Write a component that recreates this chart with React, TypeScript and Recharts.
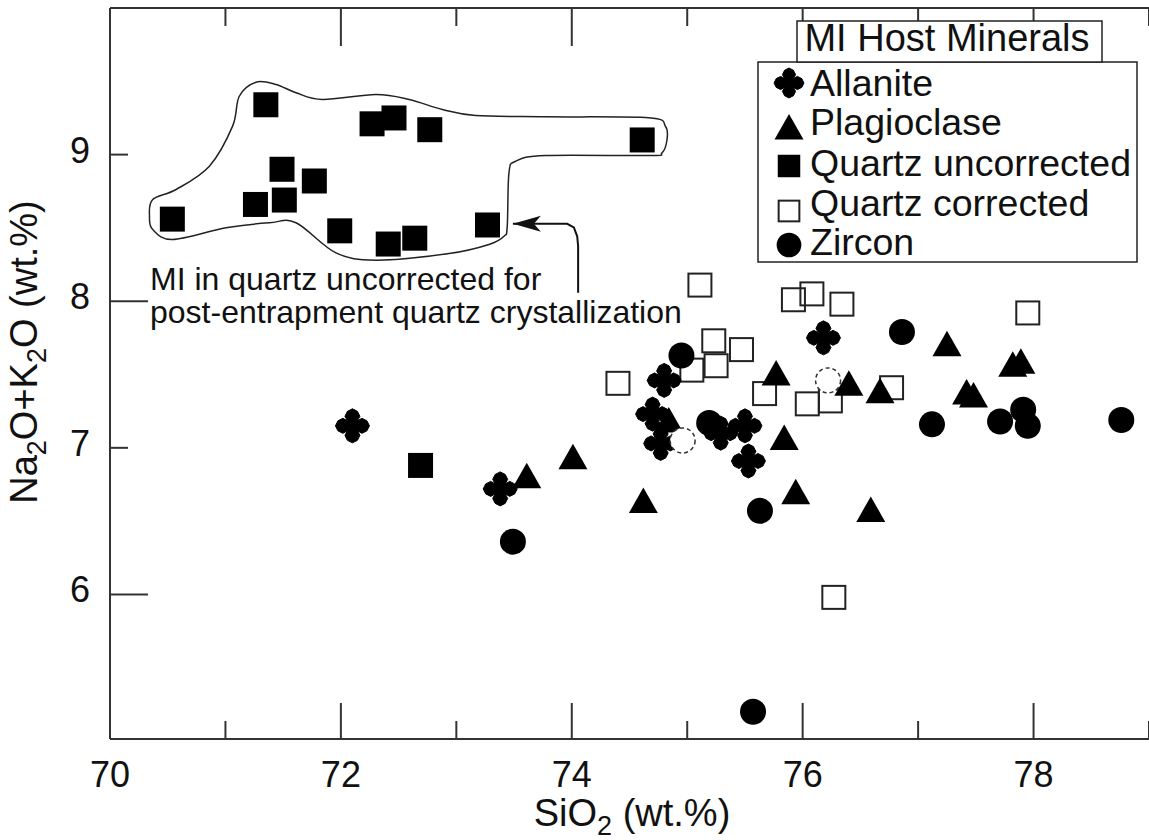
import React from 'react';
import { ScatterChart, Scatter, XAxis, YAxis, Legend } from 'recharts';

const FONT = '"Liberation Sans", Arial, Helvetica, sans-serif';
const INK = '#111';
const AXIS = '#333';

const X_TICKS = [70, 71, 72, 73, 74, 75, 76, 77, 78, 79];
const X_LABELS = [70, 72, 74, 76, 78];
const Y_TICKS = [6, 7, 8, 9, 10];
const Y_LABELS = [6, 7, 8, 9];
const X_DOMAIN = [70, 79];
const Y_DOMAIN = [5.014, 10];

const LEGEND_TITLE = 'MI Host Minerals';
const LEGEND_NAMES = ['Allanite', 'Plagioclase', 'Quartz uncorrected', 'Quartz corrected', 'Zircon'];
const NOTE_LINES = ['MI in quartz uncorrected for', 'post-entrapment quartz crystallization'];

const allanite = [
  { x: 72.10, y: 7.15 }, { x: 73.38, y: 6.72 }, { x: 74.70, y: 7.23 }, { x: 74.77, y: 7.03 },
  { x: 74.80, y: 7.46 }, { x: 75.29, y: 7.10 }, { x: 75.50, y: 7.15 }, { x: 75.53, y: 6.91 },
  { x: 76.18, y: 7.75 },
];

const plagioclase = [
  { x: 73.61, y: 6.81 }, { x: 74.01, y: 6.94 }, { x: 74.62, y: 6.64 }, { x: 74.84, y: 7.19 },
  { x: 75.77, y: 7.51 }, { x: 75.84, y: 7.07 }, { x: 75.94, y: 6.70 }, { x: 76.40, y: 7.44 },
  { x: 76.59, y: 6.58 }, { x: 76.67, y: 7.39 }, { x: 77.25, y: 7.71 }, { x: 77.42, y: 7.38 },
  { x: 77.48, y: 7.36 }, { x: 77.82, y: 7.57 }, { x: 77.89, y: 7.59 },
];

const quartzUncorrected = [
  { x: 70.54, y: 8.56 }, { x: 71.26, y: 8.66 }, { x: 71.35, y: 9.34 }, { x: 71.49, y: 8.90 },
  { x: 71.51, y: 8.69 }, { x: 71.77, y: 8.82 }, { x: 71.99, y: 8.48 }, { x: 72.27, y: 9.21 },
  { x: 72.41, y: 8.39 }, { x: 72.46, y: 9.25 }, { x: 72.64, y: 8.43 }, { x: 72.69, y: 6.88 },
  { x: 72.77, y: 9.17 }, { x: 73.27, y: 8.52 }, { x: 74.61, y: 9.10 },
];

const quartzCorrected = [
  { x: 74.40, y: 7.44 }, { x: 75.04, y: 7.53 }, { x: 75.11, y: 8.11 }, { x: 75.23, y: 7.73 },
  { x: 75.25, y: 7.56 }, { x: 75.47, y: 7.67 }, { x: 75.67, y: 7.37 }, { x: 75.92, y: 8.01 },
  { x: 76.04, y: 7.30 }, { x: 76.08, y: 8.05 }, { x: 76.24, y: 7.32 }, { x: 76.27, y: 5.98 },
  { x: 76.34, y: 7.98 }, { x: 76.77, y: 7.41 }, { x: 77.95, y: 7.92 },
];

const zircon = [
  { x: 73.49, y: 6.36 }, { x: 74.95, y: 7.63 }, { x: 75.19, y: 7.17 }, { x: 75.57, y: 5.20 },
  { x: 75.63, y: 6.57 }, { x: 76.86, y: 7.79 }, { x: 77.12, y: 7.16 }, { x: 77.71, y: 7.18 },
  { x: 77.91, y: 7.26 }, { x: 77.95, y: 7.15 }, { x: 78.76, y: 7.19 },
];

const zirconDashed = [{ x: 74.96, y: 7.05 }, { x: 76.22, y: 7.46 }];

const enclosure = [
  { x: 70.342, y: 8.580 }, { x: 70.370, y: 8.694 }, { x: 70.573, y: 8.762 }, { x: 70.861, y: 8.921 },
  { x: 71.062, y: 9.194 }, { x: 71.120, y: 9.398 }, { x: 71.265, y: 9.494 }, { x: 71.438, y: 9.478 },
  { x: 71.611, y: 9.422 }, { x: 71.841, y: 9.376 }, { x: 72.303, y: 9.410 }, { x: 72.591, y: 9.376 },
  { x: 72.879, y: 9.308 }, { x: 73.168, y: 9.267 }, { x: 73.773, y: 9.258 }, { x: 74.667, y: 9.251 },
  { x: 74.811, y: 9.194 }, { x: 74.825, y: 9.103 }, { x: 74.782, y: 9.012 }, { x: 74.667, y: 8.994 },
  { x: 73.773, y: 8.994 }, { x: 73.514, y: 8.955 }, { x: 73.456, y: 8.876 }, { x: 73.441, y: 8.512 },
  { x: 73.413, y: 8.443 }, { x: 73.283, y: 8.387 }, { x: 72.937, y: 8.325 }, { x: 72.303, y: 8.280 },
  { x: 71.957, y: 8.330 }, { x: 71.611, y: 8.535 }, { x: 71.380, y: 8.535 }, { x: 71.005, y: 8.501 },
  { x: 70.543, y: 8.421 }, { x: 70.370, y: 8.489 },
];

const arrowPath = [
  { x: 74.055, y: 8.057 }, { x: 74.055, y: 8.375 }, { x: 74.047, y: 8.443 }, { x: 74.018, y: 8.503 },
  { x: 73.960, y: 8.528 }, { x: 73.490, y: 8.528, head: true },
];

// closed Catmull-Rom curve factory for the hand-drawn enclosure
const closedSmooth = (context: any) => {
  let pts: number[][] = [];
  return {
    areaStart() {},
    areaEnd() {},
    lineStart() { pts = []; },
    point(x: number, y: number) { pts.push([x, y]); },
    lineEnd() {
      const n = pts.length;
      if (!n) return;
      context.moveTo(pts[0][0], pts[0][1]);
      for (let i = 0; i < n; i++) {
        const p0 = pts[(i - 1 + n) % n];
        const p1 = pts[i];
        const p2 = pts[(i + 1) % n];
        const p3 = pts[(i + 2) % n];
        context.bezierCurveTo(
          p1[0] + (p2[0] - p0[0]) / 6, p1[1] + (p2[1] - p0[1]) / 6,
          p2[0] - (p3[0] - p1[0]) / 6, p2[1] - (p3[1] - p1[1]) / 6,
          p2[0], p2[1],
        );
      }
      context.closePath();
    },
  };
};

// plus-like glyph with bulging arms and pointed tips
const CROSS_PTS = [
  [0, -17], [5, -14.5], [7.5, -9.5], [5, -5], [9.5, -7.5], [14.5, -5], [17, 0], [14.5, 5], [9.5, 7.5], [5, 5],
  [7.5, 9.5], [5, 14.5], [0, 17], [-5, 14.5], [-7.5, 9.5], [-5, 5], [-9.5, 7.5], [-14.5, 5], [-17, 0],
  [-14.5, -5], [-9.5, -7.5], [-5, -5], [-7.5, -9.5], [-5, -14.5],
];
const crossGlyph = (cx: number, cy: number, s: number) => (
  <polygon
    points={CROSS_PTS.map(([dx, dy]) => `${cx + dx * s},${cy + dy * s}`).join(' ')}
    fill="#000" stroke="#000" strokeWidth={1} strokeLinejoin="round"
  />
);
const triGlyph = (cx: number, cy: number, s: number) => (
  <polygon
    points={`${cx},${cy - 13 * s} ${cx - 14.5 * s},${cy + 12.5 * s} ${cx + 14.5 * s},${cy + 12.5 * s}`}
    fill="#000"
  />
);
const sqGlyph = (cx: number, cy: number, s: number) => (
  <rect x={cx - 12.5 * s} y={cy - 12.5 * s} width={25 * s} height={25 * s} fill="#000" />
);
const openSqGlyph = (cx: number, cy: number, s: number) => (
  <rect x={cx - 11.5 * s} y={cy - 11.5 * s} width={23 * s} height={23 * s} fill="none" stroke="#222" strokeWidth={2} />
);
const circGlyph = (cx: number, cy: number, s: number) => <circle cx={cx} cy={cy} r={13 * s} fill="#000" />;

const CrossShape = (p: any) => crossGlyph(p.cx, p.cy, 1);
const TriShape = (p: any) => triGlyph(p.cx, p.cy, 1);
const SqShape = (p: any) => sqGlyph(p.cx, p.cy, 1);
const OpenSqShape = (p: any) => openSqGlyph(p.cx, p.cy, 1);
const CircShape = (p: any) => circGlyph(p.cx, p.cy, 1);
const DashedCircShape = (p: any) => (
  <circle cx={p.cx} cy={p.cy} r={12.5} fill="#fff" stroke="#333" strokeWidth={1.5} strokeDasharray="4 3" />
);
const NoShape = () => <g />;
const ArrowShape = (p: any) => {
  if (!p.payload || !p.payload.head) return <g />;
  const { cx, cy } = p;
  return <polygon points={`${cx},${cy} ${cx + 28},${cy - 8} ${cx + 21},${cy} ${cx + 28},${cy + 8}`} fill="#111" />;
};

const XTickBottom = (props: any) => {
  const { x, y, payload } = props;
  const v = payload.value;
  const len = v % 2 === 0 ? 36 : 18;
  return (
    <g>
      <line x1={x} x2={x} y1={y} y2={y - len} stroke={AXIS} strokeWidth={2} />
      {X_LABELS.includes(v) && (
        <text x={x} y={y + 48} textAnchor="middle" fontSize={36} fontFamily={FONT} fill={INK}>{v}</text>
      )}
    </g>
  );
};
const XTickTop = (props: any) => {
  const { x, y, payload } = props;
  const len = payload.value % 2 === 0 ? 38 : 18;
  return <line x1={x} x2={x} y1={y} y2={y + len} stroke={AXIS} strokeWidth={2} />;
};
const YTickLeft = (props: any) => {
  const { x, y, payload } = props;
  const v = payload.value;
  const len = v % 2 === 0 ? 38 : 18;
  return (
    <g>
      <line x1={x} x2={x + len} y1={y} y2={y} stroke={AXIS} strokeWidth={2} />
      {Y_LABELS.includes(v) && (
        <text x={x - 20} y={y + 8} textAnchor="end" fontSize={36} fontFamily={FONT} fill={INK}>{v}</text>
      )}
    </g>
  );
};
const YTickRight = (props: any) => {
  const { x, y, payload } = props;
  const len = payload.value % 2 === 0 ? 36 : 18;
  return <line x1={x} x2={x - len} y1={y} y2={y} stroke={AXIS} strokeWidth={2} />;
};

const legendGlyphs = [
  (cx: number, cy: number) => crossGlyph(cx, cy, 0.88),
  (cx: number, cy: number) => triGlyph(cx, cy, 1),
  (cx: number, cy: number) => sqGlyph(cx, cy, 0.9),
  (cx: number, cy: number) => openSqGlyph(cx, cy, 0.9),
  (cx: number, cy: number) => circGlyph(cx, cy, 0.95),
];
const legendSymbolY = [83, 127, 166, 211, 245];
const legendTextY = [96, 135, 176, 216, 255];

const LegendBox = () => (
  <svg width={1149} height={270} style={{ display: 'block' }}>
    <rect x={758} y={62} width={379} height={200} fill="#fff" stroke="#222" strokeWidth={1.5} />
    <rect x={797} y={21} width={305} height={41} fill="#fff" stroke="#222" strokeWidth={1.5} />
    <text x={947} y={51} textAnchor="middle" fontSize={38} fontFamily={FONT} fill={INK}>{LEGEND_TITLE}</text>
    {LEGEND_NAMES.map((name, i) => (
      <g key={name}>
        {legendGlyphs[i](789, legendSymbolY[i])}
        <text x={810} y={legendTextY[i]} fontSize={37.5} fontFamily={FONT} fill={INK}>{name}</text>
      </g>
    ))}
  </svg>
);

export default function App() {
  return (
    <div style={{ position: 'absolute', left: 0, top: 0, width: 1149, height: 840, background: '#fff', fontFamily: FONT }}>
      <ScatterChart width={1149} height={840} margin={{ top: 0, right: 0, bottom: 0, left: 0 }}>
        <XAxis
          xAxisId="x" type="number" dataKey="x" domain={X_DOMAIN} allowDataOverflow ticks={X_TICKS}
          interval={0} height={101} tickSize={0} tickMargin={0} tickLine={false}
          axisLine={{ stroke: AXIS, strokeWidth: 2 }} tick={XTickBottom}
        />
        <XAxis
          xAxisId="top" orientation="top" type="number" dataKey="x" domain={X_DOMAIN} allowDataOverflow
          ticks={X_TICKS} interval={0} height={8} tickSize={0} tickMargin={0} tickLine={false}
          axisLine={{ stroke: AXIS, strokeWidth: 2 }} tick={XTickTop}
        />
        <YAxis
          yAxisId="y" type="number" dataKey="y" domain={Y_DOMAIN} allowDataOverflow ticks={Y_TICKS}
          interval={0} width={110} tickSize={0} tickMargin={0} tickLine={false}
          axisLine={{ stroke: AXIS, strokeWidth: 2 }} tick={YTickLeft}
        />
        <YAxis
          yAxisId="r" orientation="right" type="number" dataKey="y" domain={Y_DOMAIN} allowDataOverflow
          ticks={Y_TICKS} interval={0} width={0} tickSize={0} tickMargin={0} tickLine={false}
          axisLine={false} tick={YTickRight}
        />
        <Legend
          layout="horizontal" verticalAlign="middle" align="center"
          wrapperStyle={{ position: 'absolute', left: 0, top: 0, width: 1149, height: 270, pointerEvents: 'none' }}
          content={LegendBox}
        />
        <Scatter
          name="enclosure" data={enclosure} xAxisId="x" yAxisId="y" legendType="none"
          line={{ stroke: '#222', strokeWidth: 1.5, fill: 'none' }} lineType="joint" lineJointType={closedSmooth}
          shape={NoShape} isAnimationActive={false}
        />
        <Scatter
          name="arrow" data={arrowPath} xAxisId="x" yAxisId="y" legendType="none"
          line={{ stroke: '#111', strokeWidth: 2, fill: 'none' }} lineType="joint" lineJointType="linear"
          shape={ArrowShape} isAnimationActive={false}
        />
        <Scatter name="Quartz corrected" data={quartzCorrected} xAxisId="x" yAxisId="y" shape={OpenSqShape} isAnimationActive={false} />
        <Scatter name="Plagioclase" data={plagioclase} xAxisId="x" yAxisId="y" shape={TriShape} isAnimationActive={false} />
        <Scatter name="Allanite" data={allanite} xAxisId="x" yAxisId="y" shape={CrossShape} isAnimationActive={false} />
        <Scatter name="Zircon" data={zircon} xAxisId="x" yAxisId="y" shape={CircShape} isAnimationActive={false} />
        <Scatter name="Quartz uncorrected" data={quartzUncorrected} xAxisId="x" yAxisId="y" shape={SqShape} isAnimationActive={false} />
        <Scatter name="Zircon (removed)" data={zirconDashed} xAxisId="x" yAxisId="y" legendType="none" shape={DashedCircShape} isAnimationActive={false} />
        <text fontSize={32} fontFamily={FONT} fill={INK}>
          <tspan x={150} y={290}>{NOTE_LINES[0]}</tspan>
          <tspan x={150} y={323}>{NOTE_LINES[1]}</tspan>
        </text>
        <text x={632} y={826} textAnchor="middle" fontSize={38} fontFamily={FONT} fill={INK}>
          SiO<tspan fontSize={27} dy={9}>2</tspan><tspan dy={-9}> (wt.%)</tspan>
        </text>
        <text
          x={37} y={352} textAnchor="middle" fontSize={38} fontFamily={FONT} fill={INK}
          transform="rotate(-90 37 352)"
        >
          Na<tspan fontSize={27} dy={9}>2</tspan><tspan dy={-9}>O+K</tspan><tspan fontSize={27} dy={9}>2</tspan><tspan dy={-9}>O (wt.%)</tspan>
        </text>
      </ScatterChart>
    </div>
  );
}
